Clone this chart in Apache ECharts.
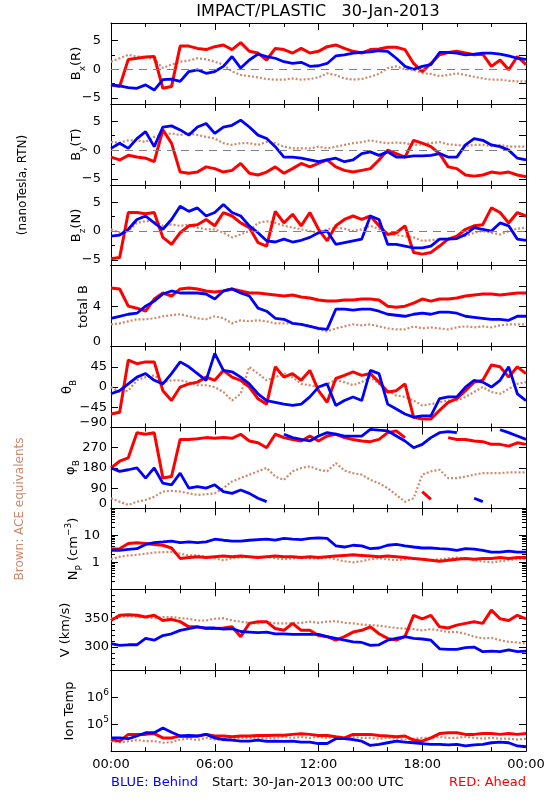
<!DOCTYPE html>
<html><head><meta charset="utf-8">
<script src="https://cdn.jsdelivr.net/npm/echarts@6/dist/echarts.min.js"></script>
<style>html,body{margin:0;padding:0;background:#fff}#c{width:550px;height:800px}</style>
</head><body><div id="c"></div>
<script>
// ---- time axis (hours since 30-Jan-2013 00:00 UTC) ----
const hours = [0,0.5,1,1.5,2,2.5,3,3.5,4,4.5,5,5.5,6,6.5,7,7.5,8,8.5,9,9.5,10,10.5,11,11.5,12,12.5,13,13.5,14,14.5,15,15.5,16,16.5,17,17.5,18,18.5,19,19.5,20,20.5,21,21.5,22,22.5,23,23.5,24];
const xTickLabels = ['00:00','06:00','12:00','18:00','00:00'];

// ---- Bx (R) nT ----
const bxBlue  = [-2.7,-2.9,-3.2,-3.3,-2.7,-3.6,-1.8,-1.7,-2.1,-0.4,-0.1,-0.7,-0.4,0.5,2.2,0.2,1.6,2.6,2.2,1.9,1.3,1.0,1.2,0.5,0.6,1.0,2.3,2.5,2.8,2.9,3.0,3.2,3.1,1.9,0.5,0.0,0.5,0.8,2.9,2.9,2.8,2.5,2.6,2.8,2.8,2.6,2.3,1.9,1.7];
const bxRed   = [-2.7,-3.0,1.7,1.9,2.1,2.2,-3.3,-3.0,4.0,4.0,3.6,3.4,3.9,4.2,3.4,4.6,3.1,2.8,1.6,3.6,3.4,2.8,3.6,2.8,3.1,3.9,4.2,3.6,3.1,2.8,3.4,3.5,3.8,3.8,3.4,1.0,-0.4,1.0,2.5,2.9,3.1,2.8,2.5,2.6,0.5,1.6,-0.1,2.2,0.8];
const bxBrown = [1.3,1.9,2.5,2.2,2.1,1.7,0.2,0.8,1.3,1.5,1.9,1.7,1.3,0.8,-0.4,-1.0,-1.2,-1.4,-1.7,-1.8,-1.8,-1.6,-1.8,-1.7,-1.4,-0.7,-1.0,-1.6,-1.8,-1.7,-1.3,-0.8,0.2,0.5,0.0,-0.1,-0.7,-0.8,-1.2,-1.0,-0.7,-1.0,-1.3,-1.6,-1.8,-1.8,-2.0,-2.1,-2.1];
// ---- By (T) nT ----
const byBlue  = [0.3,1.2,0.3,2.0,3.2,0.6,4.0,4.2,3.5,2.6,4.0,4.6,2.9,4.0,4.3,5.2,4.0,2.6,2.0,0.6,-1.2,-1.2,-1.4,-1.7,-2.0,-1.7,-1.4,-2.0,-1.7,-0.6,-0.3,-0.9,-0.3,-1.2,-1.2,-1.0,-1.0,-0.9,-0.6,-1.2,-1.2,0.9,2.0,1.7,0.9,0.6,0.0,-1.4,-1.7];
const byRed   = [-1.2,-1.7,-0.9,-1.2,-1.4,-2.0,3.5,1.2,-3.8,-4.0,-3.8,-2.9,-3.2,-3.8,-3.5,-2.3,-4.0,-4.3,-3.8,-2.9,-4.0,-3.2,-2.3,-2.9,-2.3,-1.7,-2.9,-3.5,-3.8,-3.5,-3.2,-1.7,0.0,-0.6,-1.2,1.7,1.2,0.6,-0.6,-2.9,-3.2,-4.3,-4.5,-4.3,-3.8,-4.0,-3.8,-4.3,-4.6];
const byBrown = [1.4,1.3,1.7,1.7,1.4,2.3,2.6,2.9,2.6,2.9,2.6,2.3,2.0,1.2,0.9,1.2,1.2,0.9,1.4,1.2,0.6,0.3,0.3,0.3,0.6,0.3,0.6,0.9,1.2,1.4,1.7,1.4,1.2,1.3,1.2,0.9,1.0,1.2,1.4,1.0,0.9,0.7,0.9,0.9,0.7,0.9,0.6,0.6,0.6];
// ---- Bz (N) nT ----
const bzBlue  = [-0.9,-0.7,0.3,2.0,2.6,1.4,0.3,2.0,4.3,3.4,4.0,2.6,3.2,4.6,3.2,2.6,0.9,-0.3,-1.7,-1.9,-1.4,-1.9,-1.6,-1.1,-0.3,0.0,-2.3,-2.0,-1.7,-1.4,2.6,2.0,-2.3,-2.3,-2.6,-2.9,-2.9,-2.6,-1.4,-1.4,-1.3,-0.6,0.6,0.3,0.0,1.4,0.9,-1.4,-1.6];
const bzRed   = [-4.8,-4.6,3.2,3.2,3.0,3.2,-1.1,-2.3,-0.3,0.9,1.1,2.0,0.9,3.2,2.6,1.4,0.6,-2.0,-2.6,3.4,1.4,2.9,0.9,3.2,0.3,-1.7,0.9,2.0,2.6,2.0,2.6,0.9,-0.6,-0.3,0.9,-3.7,-4.0,-3.7,-2.6,-1.4,-0.9,0.3,0.9,1.1,4.0,3.2,1.4,3.2,2.6];
const bzBrown = [0.3,-0.3,0.0,1.4,1.7,1.7,0.9,1.1,0.9,1.1,0.6,0.3,0.3,-0.3,-1.1,-0.6,0.0,1.4,1.7,1.4,0.9,0.6,0.3,0.0,-0.3,0.3,0.6,0.4,0.0,0.3,0.9,0.3,-0.3,-0.7,-0.9,-1.1,-1.7,-1.6,-1.4,-1.3,-1.1,-0.9,-0.3,0.0,-0.3,-0.6,0.0,0.4,0.6];
// ---- total B nT ----
const btBlue  = [2.8,3.0,3.2,3.3,4.0,4.5,5.2,5.5,5.3,5.3,5.3,5.2,4.7,5.5,5.7,5.3,5.0,3.8,3.5,2.8,2.7,2.3,2.2,2.0,1.8,1.7,3.7,3.7,3.6,3.7,3.7,3.5,3.2,3.1,3.0,3.2,3.3,3.2,3.4,3.4,3.3,3.0,2.9,2.8,2.7,2.7,2.6,3.0,3.0];
const btRed   = [5.8,5.7,4.0,3.8,3.5,4.7,5.3,5.0,5.7,5.8,5.7,5.5,5.4,5.5,5.7,5.5,5.3,5.3,5.2,5.1,5.0,5.1,4.9,4.8,4.6,4.5,4.5,4.6,4.6,4.7,4.7,4.6,4.0,3.9,4.0,4.3,4.7,4.5,4.7,4.7,4.8,5.0,5.1,5.2,5.2,5.1,5.2,5.3,5.3];
const btBrown = [2.2,2.3,2.5,2.7,2.7,2.8,3.0,3.1,3.2,3.0,2.8,2.7,3.0,2.8,2.3,2.6,2.5,2.6,2.5,2.3,2.3,2.3,2.2,2.1,1.7,1.5,1.8,2.0,2.2,2.1,2.2,2.0,1.8,1.7,1.7,2.0,1.8,1.9,1.8,1.7,1.9,2.0,1.9,2.0,1.9,2.1,2.2,2.2,2.2];
// ---- theta_B deg ----
const thBlue  = [-15,-8,7,22,30,15,7,30,56,45,30,15,75,37,34,22,7,-15,-30,-34,-38,-41,-38,-22,0,7,-41,-30,-22,-30,37,30,-38,-49,-60,-67,-64,-64,-26,-22,-22,0,15,11,0,15,45,-15,-30];
const thRed   = [-60,-56,60,52,56,56,-8,-30,0,7,11,22,15,37,22,15,0,-26,-38,45,22,30,15,37,-8,-34,19,26,34,26,30,11,-11,-8,7,-67,-71,-71,-52,-34,-26,-8,11,15,49,45,22,45,30];
const thBrown = [0,-11,-8,15,22,26,11,15,15,11,4,4,0,-11,-30,-15,45,30,15,22,30,22,7,4,0,7,15,11,4,11,22,7,-8,-19,-22,-30,-41,-38,-34,-30,-30,-22,-11,0,-11,-15,-4,7,11];
// ---- phi_B deg (null = wrap across 0/360) ----
const phBlue  = [180,165,172,180,135,180,112,105,157,90,97,90,105,75,67,82,67,45,30,null,330,315,307,300,322,337,330,322,322,322,352,348,345,322,300,270,285,315,337,342,337,null,45,30,null,350,337,322,307];
const phRed   = [180,210,225,337,330,337,135,142,307,307,310,315,312,315,312,330,300,292,270,330,315,307,300,322,300,322,330,315,307,300,297,307,337,345,315,null,75,40,null,315,307,307,300,297,285,285,277,292,285];
const phBrown = [45,30,15,30,37,52,75,78,75,67,60,63,67,90,120,135,150,165,180,142,127,165,180,187,172,165,202,168,157,150,127,112,90,60,30,45,150,165,172,135,135,142,150,157,157,157,160,160,160];
// ---- Np cm^-3 ----
const npBlue  = [2.8,2.8,3.0,3.2,4.6,5.4,5.7,6.1,5.4,5.7,5.4,5.7,7.2,6.6,6.1,6.1,6.6,7.0,7.2,6.6,7.7,7.2,7.0,7.7,8.1,7.7,4.1,3.7,4.3,4.1,3.2,3.4,4.3,4.6,4.1,3.7,3.4,3.4,3.2,3.1,2.8,3.2,3.1,2.8,2.4,2.4,2.6,2.4,2.4];
const npRed   = [3.1,3.2,5.0,5.3,5.0,4.6,4.3,3.4,1.4,1.5,1.6,1.5,1.6,1.7,1.6,1.7,1.6,1.5,1.6,1.7,1.6,1.6,1.5,1.6,1.5,1.6,1.7,1.8,1.9,1.8,1.7,1.6,1.7,1.6,1.5,1.4,1.3,1.2,1.1,1.2,1.3,1.4,1.3,1.4,1.4,1.5,1.4,1.5,1.5];
const npBrown = [1.3,1.6,1.8,1.9,2.1,2.3,2.4,2.4,2.1,1.8,1.8,1.6,1.4,1.2,1.4,1.5,1.6,1.5,1.6,1.4,1.3,1.4,1.5,1.4,1.4,1.5,1.3,1.1,1.0,1.1,1.3,1.4,1.3,1.2,1.3,1.4,1.3,1.2,1.3,1.4,1.5,1.4,1.2,1.1,1.0,1.1,1.2,1.3,1.3];
// ---- V km/s ----
const vBlue   = [306,303,304,304,315,312,320,323,329,332,335,333,333,331,332,327,326,325,326,323,323,322,322,322,322,318,315,312,309,308,303,304,312,315,318,315,314,312,297,296,296,299,300,292,293,292,295,292,293];
const vRed    = [346,355,356,355,352,355,346,348,344,335,335,332,332,333,335,318,341,344,344,332,329,341,329,329,320,318,312,318,326,329,335,323,315,312,318,355,349,355,335,333,338,341,344,341,364,349,346,355,349];
const vBrown  = [349,352,354,352,352,350,352,352,350,349,346,346,349,350,346,344,342,341,344,341,341,341,342,344,342,344,345,342,341,339,338,337,335,333,332,331,329,331,329,326,326,323,318,315,316,312,309,308,306];
// ---- Ion temperature K ----
const tBlue   = [30900,30900,28800,36300,47900,47900,72400,50100,36300,38000,36300,41700,30900,26900,25700,23400,23400,25700,22900,23400,22900,23400,21400,21400,19100,19100,28800,28800,26900,23400,16200,17800,20400,23400,21400,20400,19100,17800,17800,17000,17800,15500,17000,17800,20400,21400,20400,15500,14500];
const tRed    = [26900,23400,41700,41700,41700,44700,30900,30900,36300,33900,36300,41700,36300,36300,33900,36300,36300,38000,38000,38900,38900,41700,43600,41700,38000,38000,33900,30900,41700,41700,41700,38000,36300,33900,36300,25700,23400,30900,44700,47900,47900,41700,41700,44700,44700,41700,44700,41700,44700];
const tBrown  = [23400,21400,23400,25700,23400,23400,20400,21400,26900,28800,25700,30900,26900,25700,28800,30900,30900,30900,28800,30900,33900,30900,33900,30900,33900,30900,33900,30900,33900,30900,30900,28800,30900,28800,26900,28800,30900,30900,33900,30900,30900,33900,30900,28800,30900,28800,28800,27000,28800];

// ---- tick values ----
const bTicks = [-5,0,5], bRightTicks = [-5,-2.5,0,2.5,5];
const btTicks = [0,4], btRightTicks = [2,4,6];
const thTicks = [-90,-45,0,45];
const phTicks = [0,90,180,270];
const npTicks = [1,10];
const npMinor = [0.2,0.3,0.4,0.5,0.6,0.7,0.8,0.9,2,3,4,5,6,7,8,9,20,30,40,50,60,70,80,90];
const vTicks = [300,350];
const vMinor = [270,280,290,310,320,330,340,360,370,380,390];
const tTicks = [1e5,1e6];

// ================= rendering =================
const FONT = 'DejaVu Sans';
const BLUE = '#0000ff', RED = '#ff0000', BROWN = '#cd8a6c';
const G_LEFT = 111, G_W = 415, G_TOP = 23, G_H = 80.9;
const minus = v => String(v).replace('-', '\u2212');
const edgeLow = (v, lo) => v === lo ? '{low|' + minus(v) + '}' : minus(v);

const panels = [
  {type:'value', min:-6, max:8, labels:bTicks, major:bTicks, minor:[-2.5,2.5], rmajor:bRightTicks, zero:true, d:[bxBrown,bxRed,bxBlue], margin:10},
  {type:'value', min:-6, max:8, labels:bTicks, major:bTicks, minor:[-2.5,2.5], rmajor:bRightTicks, zero:true, d:[byBrown,byRed,byBlue], margin:10},
  {type:'value', min:-6, max:8, labels:bTicks, major:bTicks, minor:[-2.5,2.5], rmajor:bRightTicks, zero:true, d:[bzBrown,bzRed,bzBlue], margin:10},
  {type:'value', min:0, max:8, labels:btTicks, major:btTicks, minor:[], rmajor:btRightTicks, d:[btBrown,btRed,btBlue], margin:10, fmt:v=>edgeLow(v,0)},
  {type:'value', min:-90, max:90, labels:thTicks, major:thTicks, minor:[], rmajor:[-45,0,45], d:[thBrown,thRed,thBlue], margin:4, fmt:v=>edgeLow(v,-90)},
  {type:'value', min:0, max:360, labels:phTicks, major:phTicks, minor:[], rmajor:[90,180,270], d:[phBrown,phRed,phBlue], margin:4, fmt:v=>edgeLow(v,0)},
  {type:'log', min:0.1, max:100, labels:npTicks, major:npTicks, minor:npMinor, rmajor:npTicks, rminor:npMinor, d:[npBrown,npRed,npBlue], margin:11},
  {type:'value', min:260, max:400, labels:vTicks, major:vTicks, minor:vMinor, rmajor:vTicks, rminor:vMinor, d:[vBrown,vRed,vBlue], margin:2},
  {type:'log', min:1e4, max:1e7, labels:tTicks, major:tTicks, minor:[], rmajor:tTicks, d:[tBrown,tRed,tBlue], margin:2, fmt:v=>'10{sup|' + Math.round(Math.log10(v)) + '}'}
];

const labelRich = {
  low: {fontSize:13, fontFamily:FONT, color:'#000', padding:[0,0,9,0]},
  sup: {fontSize:9, fontFamily:FONT, color:'#000', verticalAlign:'top', lineHeight:18},
};

const option = {animation:false, backgroundColor:'#fff', grid:[], xAxis:[], yAxis:[], series:[], graphic:[]};

panels.forEach((p, i) => {
  option.grid.push({left:G_LEFT, width:G_W, top:G_TOP + i*G_H, height:G_H});
  const last = i === panels.length - 1;
  const xi = option.xAxis.length;
  const mkX = (pos, interval, len, line, label) => ({
    gridIndex:i, type:'value', position:pos, min:0, max:24, interval,
    splitLine:{show:false},
    axisLine:{show:line, onZero:false, lineStyle:{color:'#000', width:1}},
    axisTick:{show:true, inside:true, length:len, lineStyle:{color:'#000', width:1}},
    axisLabel:{show:label, margin:7, fontSize:13, fontFamily:FONT, color:'#000',
      showMinLabel:true, showMaxLabel:true,
      formatter:v => xTickLabels[Math.round(v/6)]}
  });
  option.xAxis.push(mkX('bottom', 2, 4, true, false));
  option.xAxis.push(mkX('bottom', 6, 7, false, last));
  option.xAxis.push(mkX('top', 2, 4, true, false));
  option.xAxis.push(mkX('top', 6, 7, false, false));

  const yi = option.yAxis.length;
  const mkY = (pos, line, ticks, len, labels) => ({
    gridIndex:i, type:p.type, logBase:10, min:p.min, max:p.max, position:pos,
    splitLine:{show:false},
    axisLine:{show:line, onZero:false, lineStyle:{color:'#000', width:1}},
    axisTick:{show:ticks && ticks.length > 0, inside:true, length:len, customValues:ticks || [], lineStyle:{color:'#000', width:1}},
    axisLabel:{show:!!labels, customValues:labels || [], margin:p.margin, fontSize:13, fontFamily:FONT, color:'#000',
      formatter:p.fmt || minus, rich:labelRich}
  });
  option.yAxis.push(mkY('left', true, p.major, 7, p.labels));
  option.yAxis.push(mkY('left', false, p.minor, 4, null));
  option.yAxis.push(mkY('right', true, p.rmajor, 7, null));
  option.yAxis.push(mkY('right', false, p.rminor || [], 4, null));

  const styles = [
    {color:BROWN, width:2.2, type:[2,2]},
    {color:RED, width:3, type:'solid'},
    {color:BLUE, width:2.8, type:'solid'}
  ];
  p.d.forEach((arr, k) => {
    const s = {
      type:'line', xAxisIndex:xi, yAxisIndex:yi, showSymbol:false, symbol:'none',
      connectNulls:false, clip:true, silent:true,
      lineStyle:styles[k], itemStyle:{color:styles[k].color},
      data:hours.map((h, j) => [h, arr[j] === null ? '-' : arr[j]])
    };
    if (k === 0 && p.zero) {
      s.markLine = {silent:true, symbol:'none', label:{show:false},
        lineStyle:{color:'#808080', type:[8,6], width:1}, data:[{yAxis:0}]};
    }
    option.series.push(s);
  });
});

// ---- texts ----
const txt = (text, x, y, size, color, rot, align, rich) => ({
  type:'text', x, y, rotation:rot || 0, silent:true,
  style:{text, fill:color || '#000', font:size + 'px "' + FONT + '"', align:align || 'center', verticalAlign:'middle', rich}
});
const tRich = {
  a:{fontSize:13, fontFamily:FONT, fill:'#000', lineHeight:20, verticalAlign:'middle'},
  s:{fontSize:9, fontFamily:FONT, fill:'#000', lineHeight:20, verticalAlign:'bottom'},
  p:{fontSize:9, fontFamily:FONT, fill:'#000', lineHeight:20, verticalAlign:'top'}
};
const R = Math.PI/2;
option.graphic = [
  txt('IMPACT/PLASTIC   30-Jan-2013', 318, 12, 16),
  txt('{a|B}{s|x}{a|(R)}', 77, 63.5, 13, '#000', R, 'center', tRich),
  txt('{a|B}{s|y}{a|(T)}', 77, 144.5, 13, '#000', R, 'center', tRich),
  txt('{a|B}{s|z}{a|(N)}', 77, 225.5, 13, '#000', R, 'center', tRich),
  txt('total B', 84, 306.5, 13, '#000', R),
  txt('{a|\u03b8}{s|B}', 68, 387, 13, '#000', R, 'center', tRich),
  txt('{a|\u03c6}{s|B}', 71, 467.5, 13, '#000', R, 'center', tRich),
  txt('{a|N}{s|P}{a| (cm}{p|\u22123}{a|)}', 74, 549, 13, '#000', R, 'center', tRich),
  txt('V (km/s)', 66, 630, 13, '#000', R),
  txt('Ion Temp', 70, 711, 13, '#000', R),
  txt('(nanoTesla, RTN)', 23, 185, 12, '#000', R),
  txt('Brown: ACE equivalents', 20, 509, 12, BROWN, R),
  txt('BLUE: Behind', 111, 783, 13, BLUE, 0, 'left'),
  txt('Start: 30-Jan-2013 00:00 UTC', 212, 783, 13, '#000', 0, 'left'),
  txt('RED: Ahead', 526, 783, 13, RED, 0, 'right')
];

const chart = echarts.init(document.getElementById('c'), null, {renderer:'canvas'});
chart.setOption(option);
</script>
</body></html>
